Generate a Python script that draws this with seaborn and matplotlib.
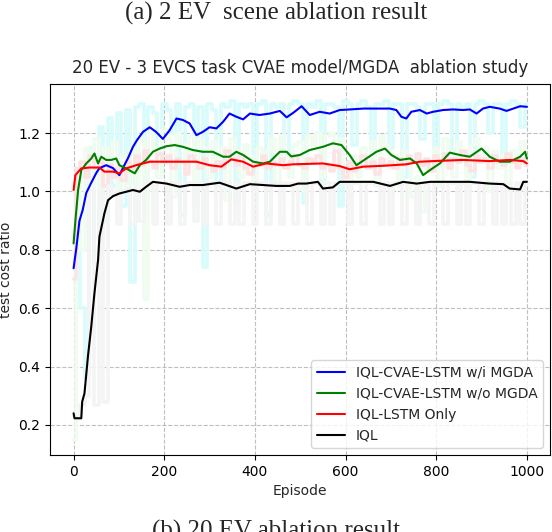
import numpy as np
import pandas as pd
import matplotlib
matplotlib.use("Agg")
import matplotlib.pyplot as plt
import seaborn as sns

sns.set_style("ticks")
plt.rcParams['font.family'] = ['DejaVu Sans']

# smoothed curves
ep_blue = [0, 6, 13, 20, 28, 39, 50, 57, 72, 87, 101, 112, 120, 131, 140, 153, 168, 182, 197, 212,
           227, 241, 256, 271, 285, 300, 315, 330, 344, 359, 374, 389, 410, 433, 455, 470, 485, 503,
           521, 543, 565, 587, 609, 639, 668, 698, 712, 723, 734, 745, 764, 779, 793, 815, 837, 859,
           874, 889, 903, 918, 940, 955, 970, 985, 1000]
val_blue = [0.737, 0.805, 0.90, 0.936, 0.995, 1.03, 1.063, 1.08, 1.09, 1.08, 1.056, 1.09, 1.114, 1.153,
            1.176, 1.204, 1.22, 1.204, 1.18, 1.21, 1.25, 1.245, 1.233, 1.193, 1.204, 1.22, 1.216, 1.239,
            1.267, 1.256, 1.247, 1.267, 1.262, 1.267, 1.276, 1.254, 1.27, 1.292, 1.262, 1.273, 1.267,
            1.279, 1.281, 1.284, 1.284, 1.284, 1.279, 1.256, 1.25, 1.273, 1.279, 1.267, 1.273, 1.279,
            1.281, 1.279, 1.281, 1.267, 1.284, 1.29, 1.284, 1.276, 1.284, 1.292, 1.29]

ep_green = [0, 4, 10, 17, 28, 39, 46, 54, 61, 72, 83, 94, 101, 116, 135, 146, 160, 175, 190, 205, 223,
            241, 263, 285, 307, 330, 344, 359, 374, 396, 418, 433, 455, 470, 480, 499, 521, 550, 572,
            591, 609, 624, 646, 668, 687, 701, 720, 742, 757, 771, 786, 808, 830, 852, 874, 900, 918,
            940, 962, 985, 996, 1000]
val_green = [0.822, 0.90, 1.005, 1.073, 1.096, 1.113, 1.13, 1.096, 1.119, 1.108, 1.108, 1.113, 1.09,
             1.079, 1.062, 1.09, 1.108, 1.136, 1.147, 1.155, 1.159, 1.153, 1.142, 1.136, 1.136, 1.119,
             1.119, 1.136, 1.125, 1.102, 1.096, 1.102, 1.136, 1.136, 1.12, 1.125, 1.142, 1.153, 1.165,
             1.159, 1.125, 1.09, 1.113, 1.136, 1.147, 1.125, 1.108, 1.113, 1.096, 1.056, 1.073, 1.096,
             1.133, 1.125, 1.119, 1.147, 1.119, 1.102, 1.102, 1.119, 1.136, 1.113]

ep_red = [0, 4, 17, 35, 57, 68, 87, 101, 116, 138, 168, 205, 241, 271, 300, 326, 348, 374, 396, 425,
          462, 485, 550, 587, 609, 639, 683, 734, 764, 808, 859, 918, 962, 992, 1000]
val_red = [1.005, 1.056, 1.079, 1.082, 1.082, 1.068, 1.068, 1.062, 1.079, 1.09, 1.102, 1.102, 1.102,
           1.102, 1.09, 1.085, 1.11, 1.102, 1.085, 1.096, 1.09, 1.093, 1.096, 1.087, 1.076, 1.085,
           1.088, 1.093, 1.102, 1.105, 1.108, 1.104, 1.108, 1.104, 1.096]

ep_black = [0, 2, 17, 19, 24, 32, 39, 46, 54, 57, 68, 76, 87, 101, 116, 131, 146, 160, 175, 205, 234,
            256, 285, 322, 359, 389, 418, 447, 477, 495, 513, 539, 550, 572, 587, 624, 661, 698, 727,
            757, 786, 830, 874, 918, 948, 962, 985, 992, 1000]
val_black = [0.24, 0.223, 0.223, 0.28, 0.308, 0.44, 0.537, 0.651, 0.765, 0.845, 0.925, 0.97, 0.984,
             0.993, 0.999, 1.005, 0.999, 1.016, 1.033, 1.027, 1.016, 1.022, 1.022, 1.03, 1.01, 1.025,
             1.022, 1.019, 1.019, 1.027, 1.027, 1.033, 1.01, 1.014, 1.033, 1.033, 1.033, 1.019, 1.033,
             1.027, 1.033, 1.033, 1.033, 1.027, 1.025, 1.01, 1.007, 1.033, 1.033]

# raw (unsmoothed) curves, one value every 10 episodes
ep_raw = list(range(0, 1001, 10))
raw_blue = [0.70, 0.95, 0.60, 0.36, 1.15, 0.75, 1.22, 0.90, 1.25, 1.02, 1.27, 0.95, 1.28, 0.69, 1.29,
            1.30, 0.98, 1.29, 1.27, 1.05, 1.30, 1.28, 1.20, 1.30, 0.92, 1.29, 1.30, 1.10, 1.29, 0.74,
            1.30, 1.28, 1.02, 1.30, 1.29, 1.31, 0.96, 1.30, 1.29, 1.30, 1.05, 1.30, 1.31, 0.92, 1.30,
            1.29, 1.30, 1.12, 1.30, 1.31, 1.30, 0.96, 1.30, 1.29, 1.31, 1.00, 1.30, 1.30, 1.29, 0.95,
            1.31, 1.30, 1.16, 1.30, 1.31, 1.29, 1.10, 1.30, 1.30, 1.31, 1.15, 1.30, 1.30, 1.05, 1.30,
            1.30, 1.29, 1.18, 1.30, 1.30, 1.08, 1.30, 1.31, 1.30, 1.14, 1.30, 1.29, 1.30, 1.05, 1.30,
            1.31, 1.30, 1.20, 1.30, 1.30, 1.12, 1.30, 1.31, 1.30, 1.22, 1.30]
raw_green = [0.15, 1.05, 0.80, 1.15, 1.00, 1.18, 0.95, 1.15, 1.05, 1.17, 0.98, 1.12, 1.02, 1.15, 0.90,
             1.18, 0.63, 1.20, 1.15, 1.05, 1.21, 1.18, 0.98, 1.20, 1.16, 1.10, 1.19, 0.95, 1.18, 1.15,
             1.05, 1.17, 1.10, 1.15, 0.97, 1.18, 1.14, 1.05, 1.16, 1.12, 1.00, 1.15, 1.08, 1.14, 1.18,
             1.02, 1.19, 1.12, 1.05, 1.16, 1.17, 1.00, 1.19, 1.16, 1.20, 1.05, 1.19, 1.20, 1.08, 1.18,
             1.05, 0.98, 1.12, 1.05, 1.15, 1.10, 1.17, 1.02, 1.19, 1.16, 1.08, 1.12, 1.02, 1.14, 1.10,
             0.98, 1.05, 0.93, 1.10, 1.08, 1.15, 1.02, 1.18, 1.14, 1.05, 1.17, 1.12, 1.02, 1.16, 1.18,
             1.10, 1.15, 1.00, 1.14, 1.08, 1.12, 1.00, 1.14, 1.10, 1.17, 1.10]
raw_red = [0.70, 1.08, 1.10, 1.05, 1.12, 1.08, 1.10, 1.02, 1.09, 1.05, 1.08, 1.04, 1.10, 1.08, 1.12,
           1.09, 1.14, 1.10, 1.08, 1.13, 1.10, 1.12, 1.08, 1.11, 1.10, 1.06, 1.12, 1.10, 1.08, 1.11,
           1.09, 1.07, 1.10, 1.08, 1.14, 1.11, 1.09, 1.12, 1.08, 1.06, 1.10, 1.09, 1.12, 1.08, 1.10,
           1.09, 1.11, 1.08, 1.10, 1.12, 1.09, 1.08, 1.11, 1.10, 1.12, 1.08, 1.09, 1.07, 1.14, 1.08,
           1.05, 1.10, 1.07, 1.09, 1.12, 1.08, 1.10, 1.06, 1.11, 1.09, 1.10, 1.08, 1.11, 1.09, 1.12,
           1.10, 1.13, 1.09, 1.11, 1.07, 1.12, 1.10, 1.13, 1.08, 1.11, 1.10, 1.14, 1.09, 1.07, 1.12,
           1.10, 1.11, 1.08, 1.12, 1.10, 1.09, 1.13, 1.10, 1.08, 1.11, 1.09]
raw_black = [0.23, 0.22, 0.27, 0.30, 1.00, 0.27, 1.00, 0.28, 1.02, 0.99, 0.89, 1.00, 1.01, 0.89, 1.01,
             0.90, 1.03, 1.03, 0.89, 1.03, 1.03, 0.89, 1.03, 1.03, 0.89, 1.03, 1.03, 0.90, 1.03, 0.89,
             1.03, 1.03, 0.89, 1.03, 1.03, 0.89, 1.03, 0.89, 1.03, 1.03, 0.89, 1.03, 1.03, 0.89, 1.03,
             1.03, 0.89, 1.03, 1.03, 0.89, 1.03, 1.03, 0.89, 1.03, 1.03, 0.89, 1.03, 0.89, 1.03, 1.03,
             1.03, 0.89, 1.03, 1.03, 0.89, 1.03, 1.03, 1.03, 0.89, 1.03, 0.89, 1.03, 1.03, 0.89, 1.03,
             1.03, 0.89, 1.03, 1.03, 0.89, 1.03, 1.03, 0.89, 1.03, 1.03, 0.89, 1.03, 0.89, 1.03, 1.03,
             0.89, 1.03, 1.03, 0.89, 1.03, 0.89, 1.03, 0.89, 1.03, 0.89, 1.03]

labels = ["IQL-CVAE-LSTM w/i MGDA", "IQL-CVAE-LSTM w/o MGDA", "IQL-LSTM Only", "IQL"]

fig = plt.figure(figsize=(5.52, 5.32), dpi=100)
ax = fig.add_axes([0.0906, 0.1447, 0.9058, 0.6973])

# faint raw curves first, drawn as thick steps so the dips look like filled bars
raw = [(raw_blue, "#d8fbfb"), (raw_green, "#effcef"), (raw_red, "#fde4e4"), (raw_black, "#f4f4f4")]
for vals, c in raw:
    sns.lineplot(x=ep_raw, y=vals, color=c, linewidth=2.6, ax=ax, estimator=None, sort=False,
                 drawstyle="steps-mid")

smooth = [(ep_blue, val_blue, "blue"), (ep_green, val_green, "green"),
          (ep_red, val_red, "red"), (ep_black, val_black, "black")]
for (xs, ys, c), lab in zip(smooth, labels):
    sns.lineplot(x=xs, y=ys, color=c, linewidth=1.5, ax=ax, estimator=None, sort=False, label=lab)

ax.set_xlim(-52, 1051)
ax.set_ylim(0.097, 1.368)
ax.set_xticks([0, 200, 400, 600, 800, 1000])
ax.set_yticks([0.2, 0.4, 0.6, 0.8, 1.0, 1.2])
ax.grid(True, linestyle="--", color="#b0b0b0", linewidth=0.8, alpha=0.8)
for s in ax.spines.values():
    s.set_color("black")
ax.tick_params(labelsize=10, colors="black")
ax.set_xlabel("Episode", fontsize=10)
ax.set_ylabel("test cost ratio", fontsize=10)
ax.set_title("20 EV - 3 EVCS task CVAE model/MGDA  ablation study", fontsize=12, pad=8)
ax.legend(loc="lower right", fontsize=10, frameon=True)

fig.text(0.5, 1 - 13 / 532, "(a) 2 EV  scene ablation result", ha="center", va="center",
         fontsize=18, family="Liberation Serif")
fig.text(0.5, 1 - 520 / 532, "(b) 20 EV ablation result", ha="center", va="top",
         fontsize=18, family="Liberation Serif")

fig.savefig("out.png", dpi=100)
